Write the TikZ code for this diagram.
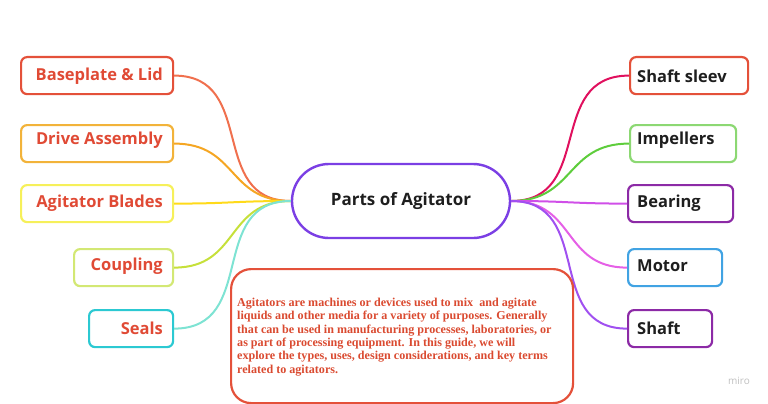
\documentclass[tikz,border=0pt]{standalone}
\usepackage{fontspec}
\setmainfont{Liberation Serif}
\newfontfamily\labelfont{Open Sans}
\newfontfamily\labelfontb{Open Sans Bold}
\newfontfamily\bodyfont{Liberation Serif Bold}
\definecolor{redor}{HTML}{E4513A}
\definecolor{amber}{HTML}{F2B33A}
\definecolor{yel}{HTML}{F6F05A}
\definecolor{lgreen}{HTML}{D3E874}
\definecolor{cyanb}{HTML}{2CC9D2}
\definecolor{cpurple}{HTML}{7B3FE4}
\definecolor{grn}{HTML}{8CD873}
\definecolor{dpurple}{HTML}{8C2AA6}
\definecolor{blueb}{HTML}{41A3E3}
\definecolor{c1}{HTML}{F0704E}
\definecolor{c2}{HTML}{F5A623}
\definecolor{c3}{HTML}{FFDA1A}
\definecolor{c4}{HTML}{C6E03A}
\definecolor{c5}{HTML}{7EE3D3}
\definecolor{d1}{HTML}{E0105E}
\definecolor{d2}{HTML}{5ECD3C}
\definecolor{d3}{HTML}{D04FE8}
\definecolor{d4}{HTML}{E560E6}
\definecolor{d5}{HTML}{A050F0}
\definecolor{labred}{HTML}{E04A35}
\definecolor{bodyred}{HTML}{DA4A30}
\definecolor{labdark}{HTML}{1E1E1E}
\begin{document}
\begin{tikzpicture}[x=1pt,y=-1pt,
  lbox/.style={draw=#1,line width=2.2pt,rounded corners=6pt,inner sep=0pt,anchor=north west},
  ltext/.style={font=\labelfontb\fontsize{16.5}{16.5}\selectfont,text=labred,anchor=east,inner sep=0pt},
  rtext/.style={font=\labelfontb\fontsize{16.5}{16.5}\selectfont,text=labdark,anchor=west,inner sep=0pt},
  conn/.style={draw=#1,line width=2pt,out=0,in=180,looseness=1.25}]
\useasboundingbox (0,0) rectangle (768,404);
% center
\node[draw=cpurple,line width=2.4pt,rounded corners=37pt,minimum width=218pt,minimum height=74pt,
  font=\labelfontb\fontsize{17}{17}\selectfont,text=labdark] (c) at (401,201) {Parts of Agitator};
% left boxes
\node[lbox=redor,minimum width=152pt,minimum height=37pt] (b1) at (20,56) {};
\node[lbox=amber,minimum width=152pt,minimum height=37pt] (b2) at (20,124) {};
\node[lbox=yel,minimum width=152pt,minimum height=37pt] (b3) at (20,184) {};
\node[lbox=lgreen,minimum width=99pt,minimum height=37pt] (b4) at (73,248) {};
\node[lbox=cyanb,minimum width=84pt,minimum height=37pt] (b5) at (88,309) {};
\node[ltext] (t1) at (163,76) {Baseplate \& Lid};
\node[ltext] (t2) at (163,140) {Drive Assembly};
\node[ltext] (t3) at (163,203) {Agitator Blades};
\node[ltext] (t4) at (163,266) {Coupling};
\node[ltext] (t5) at (163,328) {Seals};
% right boxes
\node[lbox=redor,minimum width=118pt,minimum height=37pt] (r1) at (629,56) {};
\node[lbox=grn,minimum width=106pt,minimum height=37pt] (r2) at (629,124) {};
\node[lbox=dpurple,minimum width=105pt,minimum height=37pt] (r3) at (627,184) {};
\node[lbox=blueb,minimum width=94pt,minimum height=37pt] (r4) at (627,248) {};
\node[lbox=dpurple,minimum width=84pt,minimum height=37pt] (r5) at (627,309) {};
\node[rtext] (s1) at (637,76) {Shaft sleev};
\node[rtext] (s2) at (637,140) {Impellers};
\node[rtext] (s3) at (637,203) {Bearing};
\node[rtext] (s4) at (637,266) {Motor};
\node[rtext] (s5) at (637,328) {Shaft};
% connectors
\draw[conn=c1] (b1.east) to (c.west);
\draw[conn=c2] (b2.east) to (c.west);
\draw[conn=c3] (b3.east) to (c.west);
\draw[conn=c4] (b4.east) to (c.west);
\draw[conn=c5] (b5.east) to (c.west);
\draw[conn=d1,out=180,in=0] (r1.west) to (c.east);
\draw[conn=d2,out=180,in=0] (r2.west) to (c.east);
\draw[conn=d3,out=180,in=0] (r3.west) to (c.east);
\draw[conn=d4,out=180,in=0] (r4.west) to (c.east);
\draw[conn=d5,out=180,in=0] (r5.west) to (c.east);
% text box
\node[draw=redor,line width=2.2pt,rounded corners=20pt,minimum width=342pt,minimum height=134pt,anchor=north west,inner sep=0pt] (tb) at (230,268) {};
\node[anchor=north west,inner sep=0pt,align=left,text=bodyred,
  font=\bodyfont\fontsize{12.1}{13.3}\selectfont] (tx) at (237,298) {Agitators are machines or devices used to mix\ \ and agitate\\liquids and other media for a variety of purposes. Generally\\that can be used in manufacturing processes, laboratories, or\\as part of processing equipment. In this guide, we will\\explore the types, uses, design considerations, and key terms\\related to agitators.};
\node[text=black!25,font=\labelfont\fontsize{10}{10}\selectfont] (miro) at (739,381) {miro};
\end{tikzpicture}
\end{document}
